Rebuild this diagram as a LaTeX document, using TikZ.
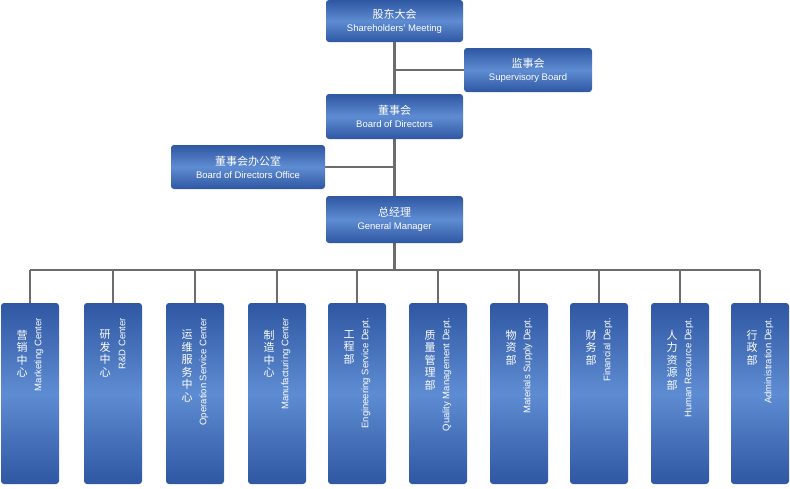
\documentclass[tikz,border=0pt]{standalone}
\usepackage{fontspec}
\usetikzlibrary{backgrounds}
\setmainfont{Liberation Sans}
\newfontfamily\cjk{Noto Sans CJK SC}
\begin{document}
\begin{tikzpicture}[x=1pt,y=-1pt,
  bx/.style={draw=none,rounded corners=3pt,shading=axis,left color=blue1,right color=blue1,middle color=blue2,shading angle=0},
  ln/.style={draw=gray!85!black,line width=2.5pt},
  tx/.style={text=white,inner sep=0pt,font=\fontsize{9.5}{11}\selectfont}]
\definecolor{blue1}{HTML}{2F57A2}
\definecolor{blue2}{HTML}{5E8CD2}
\useasboundingbox (0,0) rectangle (790,488);
\newcommand\topbox[6]{%
  \node[bx,minimum width=#3,minimum height=#4,align=center,text=white,inner sep=0pt] (#5) at (#1,#2) {\cjk\fontsize{11}{12}\selectfont #6};}
\topbox{394.5}{21}{137pt}{42pt}{sh}{股东大会\\[1pt]\rmfamily\fontsize{9.5}{11}\selectfont Shareholders' Meeting}
\topbox{528}{70}{128pt}{44pt}{sb}{监事会\\[1pt]\rmfamily\fontsize{9.5}{11}\selectfont Supervisory Board}
\topbox{394.5}{116.5}{137pt}{45pt}{bd}{董事会\\[1pt]\rmfamily\fontsize{9.5}{11}\selectfont Board of Directors}
\topbox{248}{167}{154pt}{44pt}{bo}{董事会办公室\\[1pt]\rmfamily\fontsize{9.5}{11}\selectfont Board of Directors Office}
\topbox{394.5}{219.5}{137pt}{47pt}{gm}{总经理\\[1pt]\rmfamily\fontsize{9.5}{11}\selectfont General Manager}
\begin{scope}[on background layer]
\draw[ln] (sh.south) -- (gm.north);
\draw[ln] (394.5,70) coordinate (j1) -- (sb.west);
\draw[ln] (394.5,167) coordinate (j2) -- (bo.east);
\coordinate (hl) at (394.5,270);
\draw[ln] (gm.south) -- (hl);
\draw[ln] (30,270) coordinate (hL) -- (760,270) coordinate (hR);
\end{scope}
\newcommand\dept[4]{%
  \coordinate (t#1) at (#2,270);
  \draw[ln] (t#1) -- (#2,304);
  \node[bx,minimum width=58pt,minimum height=181pt,inner sep=0pt] (d#1) at (#2,393.5) {};
  \node[tx,anchor=north,font=\cjk\fontsize{11}{12.5}\selectfont,align=center] (c#1) at ([xshift=-8pt]#2,330) {#3};
  \node[tx,rotate=90,anchor=east] (e#1) at ([xshift=9pt]#2,318) {#4};}
\dept{1}{30}{营\\销\\中\\心}{Marketing Center}
\dept{2}{113}{研\\发\\中\\心}{R\&D Center}
\dept{3}{195}{运\\维\\服\\务\\中\\心}{Operation Service Center}
\dept{4}{277}{制\\造\\中\\心}{Manufacturing Center}
\dept{5}{357}{工\\程\\部}{Engineering Service Dept.}
\dept{6}{438}{质\\量\\管\\理\\部}{Quality Management Dept.}
\dept{7}{519}{物\\资\\部}{Materials Supply Dept.}
\dept{8}{599}{财\\务\\部}{Financial Dept.}
\dept{9}{680}{人\\力\\资\\源\\部}{Human Resource Dept.}
\dept{10}{760}{行\\政\\部}{Administration Dept.}
\end{tikzpicture}
\end{document}
